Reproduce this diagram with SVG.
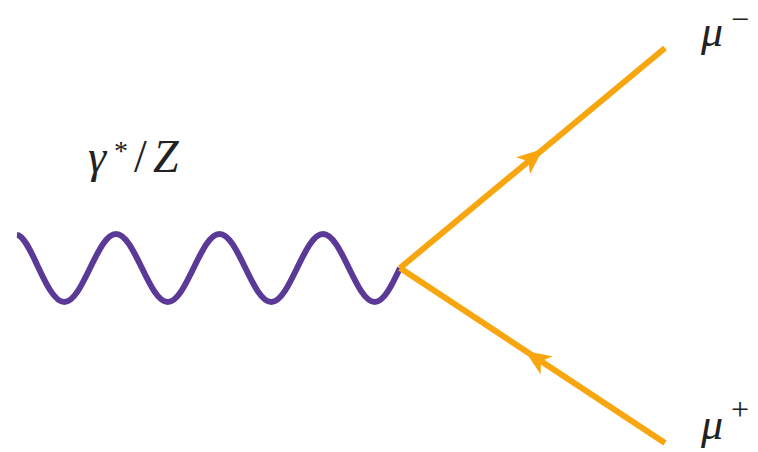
<svg xmlns="http://www.w3.org/2000/svg" width="758" height="452" viewBox="0 0 758 452">
<style>
.boson{fill:none;stroke:#5A3A96;stroke-width:6;stroke-linecap:butt}
.fermion{fill:none;stroke:#F8A60F;stroke-width:6}
.arrow{fill:#F8A60F}
.lbl{font-family:"Liberation Serif","DejaVu Serif",serif;font-style:italic;fill:#222}
.up{font-style:normal}
</style>
<rect width="758" height="452" fill="#fff"/>
<g id="connectors">
<g id="photon">
<path class="boson" d="M17,235 C31,236 46,302 64.25,302 C83.1,302 97.15,234 116,234 C134.85,234 148.9,302 167.75,302 C186.6,302 200.65,234 219.5,234 C238.35,234 252.4,302 271.25,302 C290.1,302 304.15,234 323,234 C341.85,234 355.9,302 374.75,302 C383.85,302 391.6,285.85 400,268"/>
</g>
<g id="muminus-line">
<line class="fermion" x1="400" y1="268" x2="665" y2="48"/>
<path class="arrow" transform="translate(543,149) rotate(-39.7)" d="M0,0 L-26,-11 L-19,0 L-26,11 Z"/>
</g>
<g id="muplus-line">
<line class="fermion" x1="400" y1="268" x2="665" y2="443"/>
<path class="arrow" transform="translate(525,351) rotate(-146.6)" d="M0,0 L-26,-11 L-19,0 L-26,11 Z"/>
</g>
</g>
<g id="label-gamma">
<text class="lbl" y="172" font-size="46"><tspan x="88">γ</tspan><tspan class="up" x="114" y="160" font-size="28">*</tspan><tspan class="up" x="134" y="172">/</tspan><tspan x="153" y="172">Z</tspan></text>
</g>
<g id="label-muminus">
<text class="lbl" y="46" font-size="44"><tspan x="701">μ</tspan><tspan class="up" x="731" y="30" font-size="32">−</tspan></text>
</g>
<g id="label-muplus">
<text class="lbl" y="439" font-size="44"><tspan x="701">μ</tspan><tspan class="up" x="731" y="420" font-size="32">+</tspan></text>
</g>
</svg>
